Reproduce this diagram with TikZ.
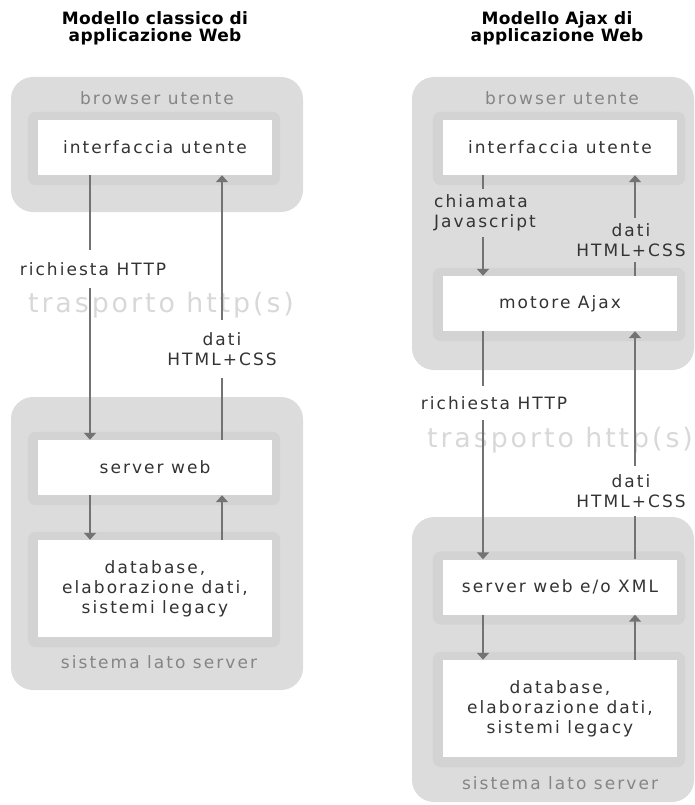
\documentclass[tikz,border=0pt]{standalone}
\usepackage{fontspec}
\setmainfont{DejaVu Sans}
\newfontfamily\labfont{DejaVu Sans}[LetterSpace=12]
\newfontfamily\trfont{DejaVu Sans}[LetterSpace=11]
\newfontfamily\titfont{DejaVu Sans}[LetterSpace=2]
\usetikzlibrary{arrows.meta}
\pgfdeclarelayer{bg}
\pgfdeclarelayer{mid}
\pgfsetlayers{bg,mid,main}
\definecolor{outerc}{HTML}{DCDCDC}
\definecolor{ringc}{HTML}{D3D3D3}
\definecolor{txt}{HTML}{333333}
\definecolor{gtxt}{HTML}{858585}
\definecolor{lc}{HTML}{737373}
\definecolor{trc}{HTML}{D8D8D8}
\tikzset{
  box/.style={fill=white, minimum width=234, minimum height=55, inner sep=0, text=txt, align=center,
    font=\labfont\fontsize{17}{20}\selectfont},
  lbl/.style={inner sep=0, text=txt, align=center, font=\labfont\fontsize{17}{20}\selectfont},
  seclbl/.style={inner sep=0, text=gtxt, font=\labfont\fontsize{17}{20}\selectfont},
  translbl/.style={inner sep=0, text=trc, font=\trfont\fontsize{26.8}{30}\selectfont},
  titlelbl/.style={inner sep=0, text=black, align=center, font=\titfont\bfseries\fontsize{17}{17}\selectfont},
  outerbox/.style={fill=outerc, rounded corners=22},
  ringbox/.style={fill=ringc, rounded corners=8},
  ln/.style={draw=lc, line width=1.6},
  arr/.style={ln, -{Triangle[width=12pt,length=7pt]}},
}
\begin{document}
\begin{tikzpicture}[x=1pt,y=-1pt]
\useasboundingbox (0,0) rectangle (694,805);
% titles
\node[titlelbl] (t1) at (155,28) {Modello classico di\\applicazione Web};
\node[titlelbl] (t2) at (557,28) {Modello Ajax di\\applicazione Web};

\begin{pgfonlayer}{bg}
\fill[outerbox] (11,77) rectangle (303,212);
\fill[outerbox] (11,397) rectangle (303,690);
\fill[outerbox] (412,77) rectangle (694,370);
\fill[outerbox] (412,517) rectangle (694,802);
\end{pgfonlayer}

% ---------- left ----------
\node[box] (ui1) at (155,147.5) {interfaccia utente};
\node[box] (sw1) at (155,467.5) {server web};
\node[box, minimum height=97] (db1) at (155,588.5) {database,\\elaborazione dati,\\sistemi legacy};
\node[seclbl] (bu1) at (157,98) {browser utente};
\node[seclbl] (sl1) at (159,662) {sistema lato server};
\node[translbl] (tr1) at (161,305) {trasporto http(s)};
\node[lbl, minimum height=38] (req1) at (93,269) {richiesta HTTP};
\node[lbl, minimum height=58] (dat1) at (222,349) {dati\\HTML+CSS};

% ---------- right ----------
\node[box] (ui2) at (560,147.5) {interfaccia utente};
\node[box] (mot) at (560,303.5) {motore Ajax};
\node[box] (sw2) at (560,587) {server web e/o XML};
\node[box, minimum height=97] (db2) at (560,708.5) {database,\\elaborazione dati,\\sistemi legacy};
\node[seclbl] (bu2) at (562,98) {browser utente};
\node[seclbl] (sl2) at (560,783) {sistema lato server};
\node[translbl] (tr2) at (560,440) {trasporto http(s)};
\node[lbl, align=left, anchor=west, minimum height=48] (js) at (434,213) {chiamata\\Javascript};
\node[lbl, minimum height=44] (dat2) at (631,240) {dati\\HTML+CSS};
\node[lbl, minimum height=34] (req2) at (494,403) {richiesta HTTP};
\node[lbl, minimum height=50] (dat3) at (631,491) {dati\\HTML+CSS};

% rings behind white boxes
\begin{pgfonlayer}{mid}
\foreach \n in {ui1,sw1,db1,ui2,mot,sw2,db2}{
  \fill[ringbox] ([shift={(-10,-8)}]\n.north west) rectangle ([shift={(8,10)}]\n.south east);
}
\end{pgfonlayer}

% connectors
\coordinate (a1) at (90,0);
\coordinate (b1) at (222,0);
\coordinate (a2) at (483,0);
\coordinate (b2) at (635,0);

\draw[ln] (ui1.south -| a1) -- (req1.north -| a1);
\draw[arr] (req1.south -| a1) -- (sw1.north -| a1);
\draw[ln] (sw1.north -| b1) -- (dat1.south -| b1);
\draw[arr] (dat1.north -| b1) -- (ui1.south -| b1);
\draw[arr] (sw1.south -| a1) -- (db1.north -| a1);
\draw[arr] (db1.north -| b1) -- (sw1.south -| b1);

\draw[ln] (ui2.south -| a2) -- (js.north -| a2);
\draw[arr] (js.south -| a2) -- (mot.north -| a2);
\draw[ln] (mot.north -| b2) -- (dat2.south -| b2);
\draw[arr] (dat2.north -| b2) -- (ui2.south -| b2);
\draw[ln] (mot.south -| a2) -- (req2.north -| a2);
\draw[arr] (req2.south -| a2) -- (sw2.north -| a2);
\draw[ln] (sw2.north -| b2) -- (dat3.south -| b2);
\draw[arr] (dat3.north -| b2) -- (mot.south -| b2);
\draw[arr] (sw2.south -| a2) -- (db2.north -| a2);
\draw[arr] (db2.north -| b2) -- (sw2.south -| b2);
\end{tikzpicture}
\end{document}
